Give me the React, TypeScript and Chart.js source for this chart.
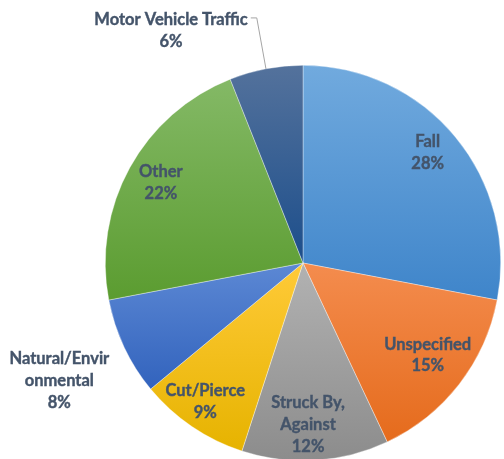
import React, { useEffect, useRef } from "react";
import { Chart, registerables } from "chart.js";
Chart.register(...registerables);

const categories = [
  "Fall",
  "Unspecified",
  "Struck By, Against",
  "Cut/Pierce",
  "Natural/Environmental",
  "Other",
  "Motor Vehicle Traffic",
];
const values = [28, 15, 12, 9, 8, 22, 6];
const labelLines = [
  ["Fall"],
  ["Unspecified"],
  ["Struck By,", "Against"],
  ["Cut/Pierce"],
  ["Natural/Envir", "onmental"],
  ["Other"],
  ["Motor Vehicle Traffic"],
];
const topColors = ["#71aade", "#f48c4e", "#b2b2b2", "#ffca38", "#5c88d4", "#84b966", "#54729c"];
const bottomColors = ["#3f85ca", "#e56b1c", "#8c8c8c", "#e6b300", "#3263bd", "#5b9c30", "#1c4e8b"];

// label placement (angle clockwise from top in degrees, distance as fraction of radius)
const labelAngles = [48.5, 126.5, 178.2, 215.2, 244.2, 299.4, 330.4];
const labelRadii = [0.842, 0.785, 0.818, 0.858, 1.369, 0.825, 1.351];
const leaderLines = [false, false, false, false, false, false, true];

const deg = Math.PI / 180;

const labelPlugin = {
  id: "sliceLabels",
  afterDatasetsDraw(chart: any) {
    const meta = chart.getDatasetMeta(0);
    const ctx = chart.ctx as CanvasRenderingContext2D;
    ctx.save();
    ctx.font = "bold 16.5px Lato, 'Liberation Sans', sans-serif";
    ctx.fillStyle = "#44546a";
    ctx.strokeStyle = "#44546a";
    ctx.lineWidth = 0.4;
    ctx.textAlign = "center";
    ctx.textBaseline = "middle";
    const lh = 21.7;
    meta.data.forEach((arc: any, i: number) => {
      const { x: cx, y: cy, outerRadius: r } = arc.getProps(["x", "y", "outerRadius"], true);
      const a = labelAngles[i] * deg;
      const lx = cx + r * labelRadii[i] * Math.sin(a);
      const ly = cy - r * labelRadii[i] * Math.cos(a);
      const lines = [...labelLines[i], values[i] + "%"];
      const y0 = ly - ((lines.length - 1) * lh) / 2;
      lines.forEach((t, k) => {
        ctx.fillText(t, lx, y0 + k * lh);
        ctx.strokeText(t, lx, y0 + k * lh);
      });
      if (leaderLines[i]) {
        const w = ctx.measureText(labelLines[i][0]).width;
        const sx = lx + w / 2 + 3;
        const sy = y0 - 2;
        const total = values.reduce((s, v) => s + v, 0);
        let start = 0;
        for (let j = 0; j < i; j++) start += values[j];
        const mid = ((start + values[i] / 2) / total) * 2 * Math.PI;
        const ex = cx + r * Math.sin(mid);
        const ey = cy - r * Math.cos(mid);
        ctx.strokeStyle = "#a5a5a5";
        ctx.lineWidth = 1;
        ctx.beginPath();
        ctx.moveTo(sx, sy);
        ctx.lineTo(sx + 6, sy);
        ctx.lineTo(ex, ey);
        ctx.stroke();
        ctx.strokeStyle = "#44546a";
        ctx.lineWidth = 0.4;
      }
    });
    ctx.restore();
  },
};

export default function App() {
  const ref = useRef<HTMLCanvasElement>(null);
  useEffect(() => {
    document.body.style.margin = "0";
    const canvas = ref.current!;
    const chart = new Chart(canvas, {
      type: "pie",
      data: {
        labels: categories,
        datasets: [
          {
            data: values,
            borderColor: "rgba(255,255,255,0.6)",
            borderWidth: 0.6,
            backgroundColor: (c: any) => {
              const ch = c.chart;
              const area = ch.chartArea;
              const idx = c.dataIndex;
              if (!area || idx === undefined) return topColors[idx ?? 0];
              const cx = (area.left + area.right) / 2;
              const cy = (area.top + area.bottom) / 2;
              const r = Math.min(area.width, area.height) / 2;
              const total = values.reduce((s, v) => s + v, 0);
              let start = 0;
              for (let j = 0; j < idx; j++) start += values[j];
              const a0 = (start / total) * 2 * Math.PI;
              const a1 = ((start + values[idx]) / total) * 2 * Math.PI;
              let minY = cy, maxY = cy;
              for (let k = 0; k <= 80; k++) {
                const a = a0 + ((a1 - a0) * k) / 80;
                const y = cy - r * Math.cos(a);
                minY = Math.min(minY, y);
                maxY = Math.max(maxY, y);
              }
              const g = ch.ctx.createLinearGradient(0, minY, 0, maxY);
              g.addColorStop(0, topColors[idx]);
              g.addColorStop(1, bottomColors[idx]);
              return g;
            },
          },
        ],
      },
      options: {
        responsive: false,
        animation: false,
        layout: { padding: { left: 105, right: 3, top: 65, bottom: 9 } },
        plugins: {
          legend: { display: false },
          tooltip: { enabled: false },
        },
      },
      plugins: [labelPlugin],
    });
    return () => chart.destroy();
  }, []);
  return (
    <div style={{ width: 504, height: 459, overflow: "hidden", background: "#fff" }}>
      <canvas ref={ref} width={504} height={470} style={{ display: "block" }} />
    </div>
  );
}
